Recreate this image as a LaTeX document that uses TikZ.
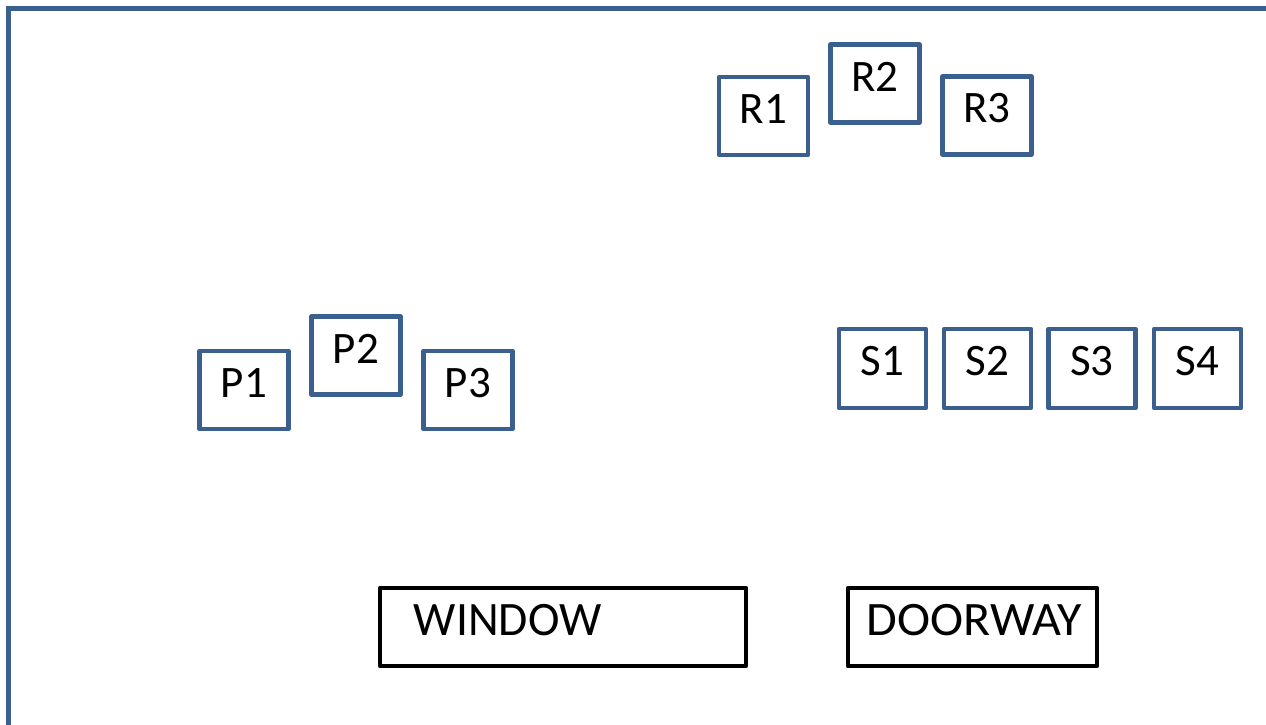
\documentclass[tikz,border=0pt]{standalone}
\usepackage{fontspec}
\setmainfont{Carlito}
\definecolor{frameblue}{HTML}{3B5F8E}
\begin{document}
\begin{tikzpicture}[x=1pt,y=-1pt,
  bluebox/.style={draw=frameblue,line width=4.5pt,line join=round,inner sep=0pt,
    minimum width=89pt,minimum height=78pt},
  sbox/.style={bluebox,minimum width=87pt,minimum height=79pt},
  blackbox/.style={draw=black,line width=4.5pt,line join=round,inner sep=0pt,minimum height=78pt},
  lbl/.style={inner sep=0pt,font=\fontsize{45}{50}\selectfont},
  biglbl/.style={inner sep=0pt,font=\fontsize{48}{54}\selectfont},
  ]
\useasboundingbox (0,0) rectangle (1266,724);
\draw[frameblue,line width=5pt,line join=miter] (8.5,730) -- (8.5,8.5) -- (1270,8.5);
% R group
\node[bluebox] (r1) at (763.5,116) {};
\node[bluebox] (r2) at (875,83.5) {};
\node[bluebox] (r3) at (987,115.5) {};
\node[lbl] at ([yshift=7pt]r1.center) {R1};
\node[lbl] at ([yshift=7pt]r2.center) {R2};
\node[lbl] at ([yshift=7pt]r3.center) {R3};
% P group
\node[bluebox] (p1) at (244,390) {};
\node[bluebox] (p2) at (356,355.5) {};
\node[bluebox] (p3) at (468,390) {};
\node[lbl] at ([yshift=7pt]p1.center) {P1};
\node[lbl] at ([yshift=7pt]p2.center) {P2};
\node[lbl] at ([yshift=7pt]p3.center) {P3};
% S group
\node[sbox] (s1) at (882.5,368.5) {};
\node[sbox] (s2) at (987.5,368.5) {};
\node[sbox] (s3) at (1092,368.5) {};
\node[sbox] (s4) at (1197.5,368.5) {};
\node[lbl] at ([yshift=7pt]s1.center) {S1};
\node[lbl] at ([yshift=7pt]s2.center) {S2};
\node[lbl] at ([yshift=7pt]s3.center) {S3};
\node[lbl] at ([yshift=7pt]s4.center) {S4};
% window and doorway
\node[blackbox,minimum width=366pt] (win) at (563,627) {};
\node[blackbox,minimum width=249pt] (door) at (972.5,627) {};
\node[biglbl,anchor=west,xscale=0.99] at ([xshift=36pt,yshift=7pt]win.west) {WINDOW};
\node[biglbl,xscale=1.04] at ([xshift=2pt,yshift=7pt]door.center) {DOORWAY};
\end{tikzpicture}
\end{document}
